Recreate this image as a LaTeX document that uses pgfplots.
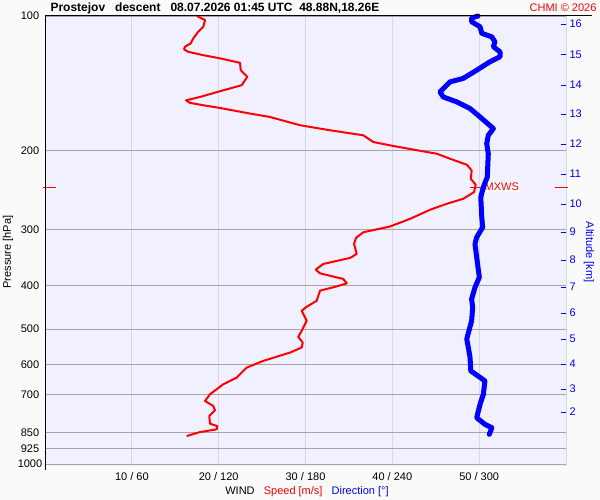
\documentclass[border=0pt]{standalone}
\usepackage{fontspec}
\setmainfont{Liberation Sans}
\usepackage{pgfplots}
\pgfplotsset{compat=1.18}

\definecolor{plotbg}{RGB}{240,240,255}
\definecolor{pagebg}{RGB}{250,250,250}
\definecolor{hgrid}{RGB}{165,165,165}
\definecolor{vgrid}{RGB}{215,215,220}

\begin{document}
\begin{tikzpicture}
\fill[pagebg] (0pt,0pt) rectangle (600pt,500pt);

% speed axis (m/s), pressure log scale
\begin{axis}[
    at={(45pt,34pt)}, anchor=south west,
    scale only axis, width=521pt, height=450pt,
    xmin=0, xmax=60,
    ymode=log, ymin=100, ymax=1010, y dir=reverse,
    axis background/.style={fill=plotbg},
    axis line style={draw=none},
    tick style={draw=none},
    /pgf/number format/assume math mode=true,
    xtick={10,20,30,40,50,60},
    xticklabels={10 / 60,20 / 120,30 / 180,40 / 240,50 / 300,},
    ytick={100,200,300,400,500,600,700,850,925,1000},
    yticklabels={100,200,300,400,500,600,700,850,925,1000},
    minor ytick={},
    xmajorgrids, ymajorgrids,
    x grid style={vgrid, line width=1pt},
    y grid style={hgrid, line width=1pt},
    ticklabel style={font=\fontsize{11}{13}\selectfont},
    xticklabel style={anchor=center, yshift=-11pt},
    yticklabel style={anchor=center, xshift=-15pt},
    clip=false,
]
\addplot[red, line width=2pt, line join=round] coordinates {
(17.50,100.0) (18.43,102.1) (18.23,105.7) (17.65,108.4) (17.08,112.2)
(16.78,115.1) (16.12,117.1) (16.01,118.7) (16.50,120.2) (18.23,122.3)
(20.15,124.3) (22.46,127.2) (22.54,132.1) (23.30,136.7) (22.65,142.7)
(20.15,147.2) (17.85,151.6) (16.24,154.2) (16.70,156.3) (18.23,158.2)
(20.15,160.4) (23.61,165.1) (25.91,168.0) (29.37,175.3) (32.82,179.9)
(36.66,184.6) (37.81,191.1) (39.73,194.4) (42.42,198.7) (45.11,202.9)
(46.64,208.2) (48.57,214.7) (49.14,221.1) (49.03,230.8) (49.60,238.0)
(49.41,247.2) (48.17,255.8) (46.26,262.5) (44.34,270.7) (42.04,283.6)
(39.73,295.0) (36.66,303.8) (35.82,312.7) (35.59,322.5) (35.90,339.6)
(35.13,346.7) (32.05,357.6) (31.18,368.2) (31.67,375.3) (34.35,386.3)
(34.75,395.1) (33.59,401.3) (31.67,410.2) (31.29,432.0) (30.14,445.5)
(29.56,454.8) (30.14,478.8) (29.56,504.2) (29.17,520.0) (29.68,535.5)
(29.56,549.4) (28.22,563.8) (25.14,588.4) (23.23,609.1) (22.08,641.3)
(20.53,663.5) (19.00,698.5) (18.43,723.1) (19.38,742.0) (19.58,758.6)
(18.92,781.2) (19.00,812.8) (19.84,822.4) (19.77,836.6) (17.85,848.3)
(16.32,865.9)
};
% max wind marks
\draw[red, line width=1pt] (axis cs:-0.23,241) -- (axis cs:1.23,241);
\draw[red, line width=1pt] (axis cs:58.73,241) -- (axis cs:60.2,241);
\draw[red, line width=1pt] (axis cs:49.0,241) -- (axis cs:50.7,241);
\node[anchor=west, red, fill=white, fill opacity=0.75, text opacity=1,
      inner sep=1pt, font=\fontsize{11}{13}\selectfont] at (axis cs:50.5,241) {MXWS};
\end{axis}

% direction axis (deg) with altitude ticks on the right
\begin{axis}[
    at={(45pt,34pt)}, anchor=south west,
    scale only axis, width=521pt, height=450pt,
    xmin=0, xmax=360,
    ymode=log, ymin=100, ymax=1010, y dir=reverse,
    axis x line=none, axis y line*=right,
    axis line style={draw=none},
    ytick={104.2,121.8,142.6,165.5,193.1,225.3,262.8,303.5,350.5,402.6,460.2,526.0,598.1,680.2,765.5},
    yticklabels={16,15,14,13,12,11,10,9,8,7,6,5,4,3,2},
    minor ytick={},
    ytick style={blue, line width=1pt},
    major tick length=5pt, tick align=inside,
    yticklabel style={blue, anchor=west, font=\fontsize{11}{13}\selectfont},
    clip=false,
]
\addplot[blue, line width=5pt, line join=round, line cap=round] coordinates {
(299.2,100.0) (294.8,101.0) (294.8,103.0) (300.6,105.7) (301.8,109.3)
(308.7,111.3) (310.9,114.2) (309.8,117.1) (314.4,120.2) (314.4,123.3)
(307.5,126.5) (298.3,132.1) (289.0,137.8) (279.8,140.3) (272.9,147.7)
(275.2,151.6) (284.5,155.5) (293.7,160.9) (300.6,168.0) (309.8,178.3)
(306.3,184.6) (305.2,192.7) (306.3,202.9) (305.6,228.8) (302.9,240.9)
(301.1,253.7) (301.8,281.2) (302.4,296.1) (298.3,311.7) (297.1,322.5)
(298.3,345.6) (300.1,383.1) (297.1,403.4) (294.8,428.2) (295.5,447.2)
(294.8,478.8) (291.4,526.0) (292.5,549.4) (293.7,578.5) (294.2,619.5)
(304.0,652.2) (302.9,698.5) (300.6,735.5) (298.3,788.1) (304.0,815.3)
(308.7,829.7) (307.0,858.4)
};
\end{axis}

% frame lines
\draw[black, line width=1pt] (45pt,484pt) -- (592pt,484pt);
\draw[black, line width=1pt] (45pt,484pt) -- (45pt,30pt);

% texts
\node[anchor=west, font=\bfseries\fontsize{12}{14}\selectfont] at (47pt,492pt)
  {Prostejov\ \ \ descent\ \ \ 08.07.2026 01:45 UTC\ \ 48.88N,18.26E};
\node[anchor=east, red, font=\fontsize{11}{13}\selectfont] at (600pt,492pt) {CHMI © 2026};
\node[rotate=90, font=\fontsize{11}{13}\selectfont] at (8pt,248pt) {Pressure [hPa]};
\node[rotate=-90, blue, font=\fontsize{11}{13}\selectfont] at (589pt,248pt) {Altitude [km]};
\node[font=\fontsize{11}{13}\selectfont] at (307pt,8.5pt)
  {WIND\ \ \ \textcolor{red}{Speed [m/s]}\ \ \ \textcolor{blue}{Direction [°]}};

\pgfresetboundingbox
\useasboundingbox (0pt,0pt) rectangle (600pt,500pt);
\end{tikzpicture}
\end{document}
